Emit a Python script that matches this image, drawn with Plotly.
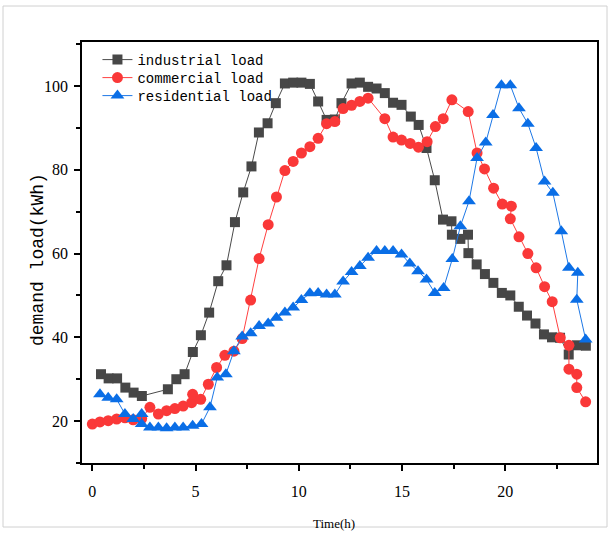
import plotly.graph_objects as go

ind_x = [0.42, 0.79, 1.2, 1.6, 2.0, 2.4, 3.66, 4.07, 4.47, 4.87, 5.26, 5.66, 6.10, 6.50, 6.91, 7.31, 7.71, 8.07, 8.49, 8.89,
         9.33, 9.73, 10.13, 10.54, 10.94, 11.35, 11.75, 12.07, 12.56, 12.96, 13.36, 13.77, 14.17, 14.57, 14.98, 15.43,
         15.81, 16.19, 16.59, 16.99, 17.40, 17.42, 17.83, 18.2, 18.22, 18.62, 19.02, 19.43, 19.84, 20.25, 20.66, 21.06,
         21.47, 21.88, 22.27, 22.66, 23.08, 23.48, 23.91]
ind_y = [31.2, 30.2, 30.2, 28.0, 26.8, 26.0, 27.6, 30.0, 31.2, 36.5, 40.5, 45.9, 53.4, 57.2, 67.5, 74.6, 80.8, 88.9, 91.1, 95.9,
         100.6, 100.8, 100.8, 100.5, 96.3, 91.9, 92.0, 95.9, 100.6, 100.8, 99.8, 99.4, 98.3, 96.0, 95.5, 92.7,
         90.7, 85.2, 77.5, 68.1, 67.7, 64.5, 63.5, 64.5, 60.1, 57.4, 55.1, 53.0, 50.6, 50.0, 47.3, 45.2,
         43.3, 40.7, 40.0, 39.9, 35.9, 38.1, 38.0]

com_x = [0, 0.37, 0.77, 1.18, 1.58, 1.98, 2.39, 2.79, 3.2, 3.6, 4.0, 4.4, 4.81, 4.86, 5.25, 5.62, 6.02, 6.42, 6.86, 7.26,
         7.67, 8.08, 8.52, 8.92, 9.33, 9.73, 10.13, 10.54, 10.94, 11.35, 11.75, 12.15, 12.56, 12.96, 13.36, 14.17, 14.57,
         14.98, 15.4, 15.8, 16.22, 16.62, 17.0, 17.42, 18.21, 18.64, 19.0, 19.44, 19.86, 20.3, 20.25, 20.67, 21.1, 21.5,
         21.91, 22.28, 22.67, 23.09, 23.09, 23.47, 23.47, 23.9]
com_y = [19.3, 19.8, 20.1, 20.5, 20.8, 20.3, 20.6, 23.3, 21.7, 22.5, 23.0, 23.6, 24.4, 26.4, 25.2, 28.8, 32.8, 35.7, 36.7, 39.7,
         48.9, 58.8, 66.9, 73.5, 79.8, 82.0, 84.0, 85.5, 87.5, 91.0, 91.5, 94.6, 95.4, 96.3, 97.1, 92.2, 87.8,
         87.1, 86.3, 85.4, 86.7, 90.3, 92.2, 96.7, 93.9, 84.0, 80.2, 75.6, 71.8, 71.3, 68.3, 64.0, 60.0, 56.6,
         52.1, 48.5, 39.9, 38.1, 32.4, 31.2, 28.0, 24.6]

res_x = [0.37, 0.77, 1.18, 1.58, 1.98, 2.39, 2.39, 2.79, 3.2, 3.6, 4.0, 4.4, 4.86, 5.29, 5.7, 6.05, 6.47, 6.86, 7.26, 7.67,
         8.08, 8.52, 8.92, 9.33, 9.73, 10.13, 10.54, 10.94, 11.35, 11.75, 12.15, 12.56, 12.96, 13.36, 13.77, 14.17, 14.57,
         14.98, 15.38, 15.78, 16.19, 16.59, 17.02, 17.44, 17.83, 18.25, 18.64, 19.06, 19.41, 19.82, 20.25, 20.67, 21.1,
         21.5, 21.91, 22.31, 22.72, 23.09, 23.52, 23.47, 23.9]
res_y = [26.4, 25.6, 25.2, 21.7, 20.5, 21.7, 19.3, 18.5, 18.5, 18.3, 18.5, 18.5, 18.9, 19.3, 23.3, 30.4, 31.2, 36.7, 40.2, 41.0,
         42.7, 43.3, 44.7, 45.9, 47.1, 48.9, 50.5, 50.6, 50.2, 50.2, 53.3, 55.6, 57.0, 59.0, 60.6, 60.6, 60.6,
         59.8, 57.6, 55.8, 53.8, 50.6, 51.8, 58.7, 66.5, 72.5, 82.8, 86.5, 93.1, 100.2, 100.2, 94.7, 91.0,
         85.2, 77.2, 74.5, 65.3, 56.6, 55.4, 49.0, 39.5]

x_ticks = [0, 5, 10, 15, 20]
y_ticks = [20, 40, 60, 80, 100]

fig = go.Figure()
fig.add_trace(go.Scatter(x=ind_x, y=ind_y, mode="lines+markers", name="industrial load", legend="legend",
                         line=dict(color="#4a4a4a", width=1),
                         marker=dict(symbol="square", size=10, color="#474747")))
fig.add_trace(go.Scatter(x=com_x, y=com_y, mode="lines+markers", name="commercial load", legend="legend2",
                         line=dict(color="#ff4040", width=1),
                         marker=dict(symbol="circle", size=11, color="#fa3838")))
fig.add_trace(go.Scatter(x=res_x, y=res_y, mode="lines+markers", name="residential load", legend="legend3",
                         line=dict(color="#1e78e6", width=1),
                         marker=dict(symbol="triangle-up", size=12, color="#0a6ee6")))

axis_common = dict(showline=True, linecolor="black", linewidth=1.5, mirror=True,
                   ticks="outside", ticklen=6, tickwidth=1.5, tickcolor="black",
                   showgrid=False, zeroline=False,
                   tickfont=dict(family="Liberation Serif", size=16, color="black"))

fig.update_xaxes(range=[-0.5, 24.45], tickvals=x_ticks, ticklabelstandoff=7,
                 minor=dict(ticks="outside", ticklen=4, tickwidth=1.5, tickcolor="black", dtick=2.5, tick0=0),
                 **axis_common)
fig.update_yaxes(range=[10, 110.5], tickvals=y_ticks, ticklabelstandoff=3,
                 minor=dict(ticks="outside", ticklen=4, tickwidth=1.5, tickcolor="black", dtick=10, tick0=0),
                 **axis_common)

leg_font = dict(family="Liberation Mono", size=14, color="black")
leg_x = 0.03


def leg(top_px):
    return dict(x=leg_x, y=1 - (top_px - 42) / 421, xanchor="left", yanchor="top",
                bgcolor="rgba(0,0,0,0)", font=leg_font, itemwidth=30)


fig.update_layout(
    width=611, height=533,
    margin=dict(l=82, r=14, t=42, b=70),
    plot_bgcolor="white", paper_bgcolor="white",
    showlegend=True,
    legend=leg(44),
    legend2=leg(62),
    legend3=leg(80),
    annotations=[
        dict(text="demand load(kWh)", xref="paper", yref="paper", x=(38 - 82) / 515, y=1 - (260 - 42) / 421,
             xanchor="center", yanchor="middle", textangle=-90, showarrow=False,
             font=dict(family="Liberation Mono", size=18, color="black")),
        dict(text="Time(h)", xref="paper", yref="paper", x=(334 - 82) / 515, y=1 - (523 - 42) / 421,
             xanchor="center", yanchor="middle", showarrow=False,
             font=dict(family="Liberation Serif", size=13, color="black")),
    ],
    shapes=[dict(type="rect", xref="paper", yref="paper",
                 x0=(3 - 82) / 515, x1=(607 - 82) / 515, y0=1 + (42 - 527) / 421, y1=1 + (42 - 6) / 421,
                 line=dict(color="#d0d0d0", width=1), layer="below")],
)

fig.write_html("out.html")
